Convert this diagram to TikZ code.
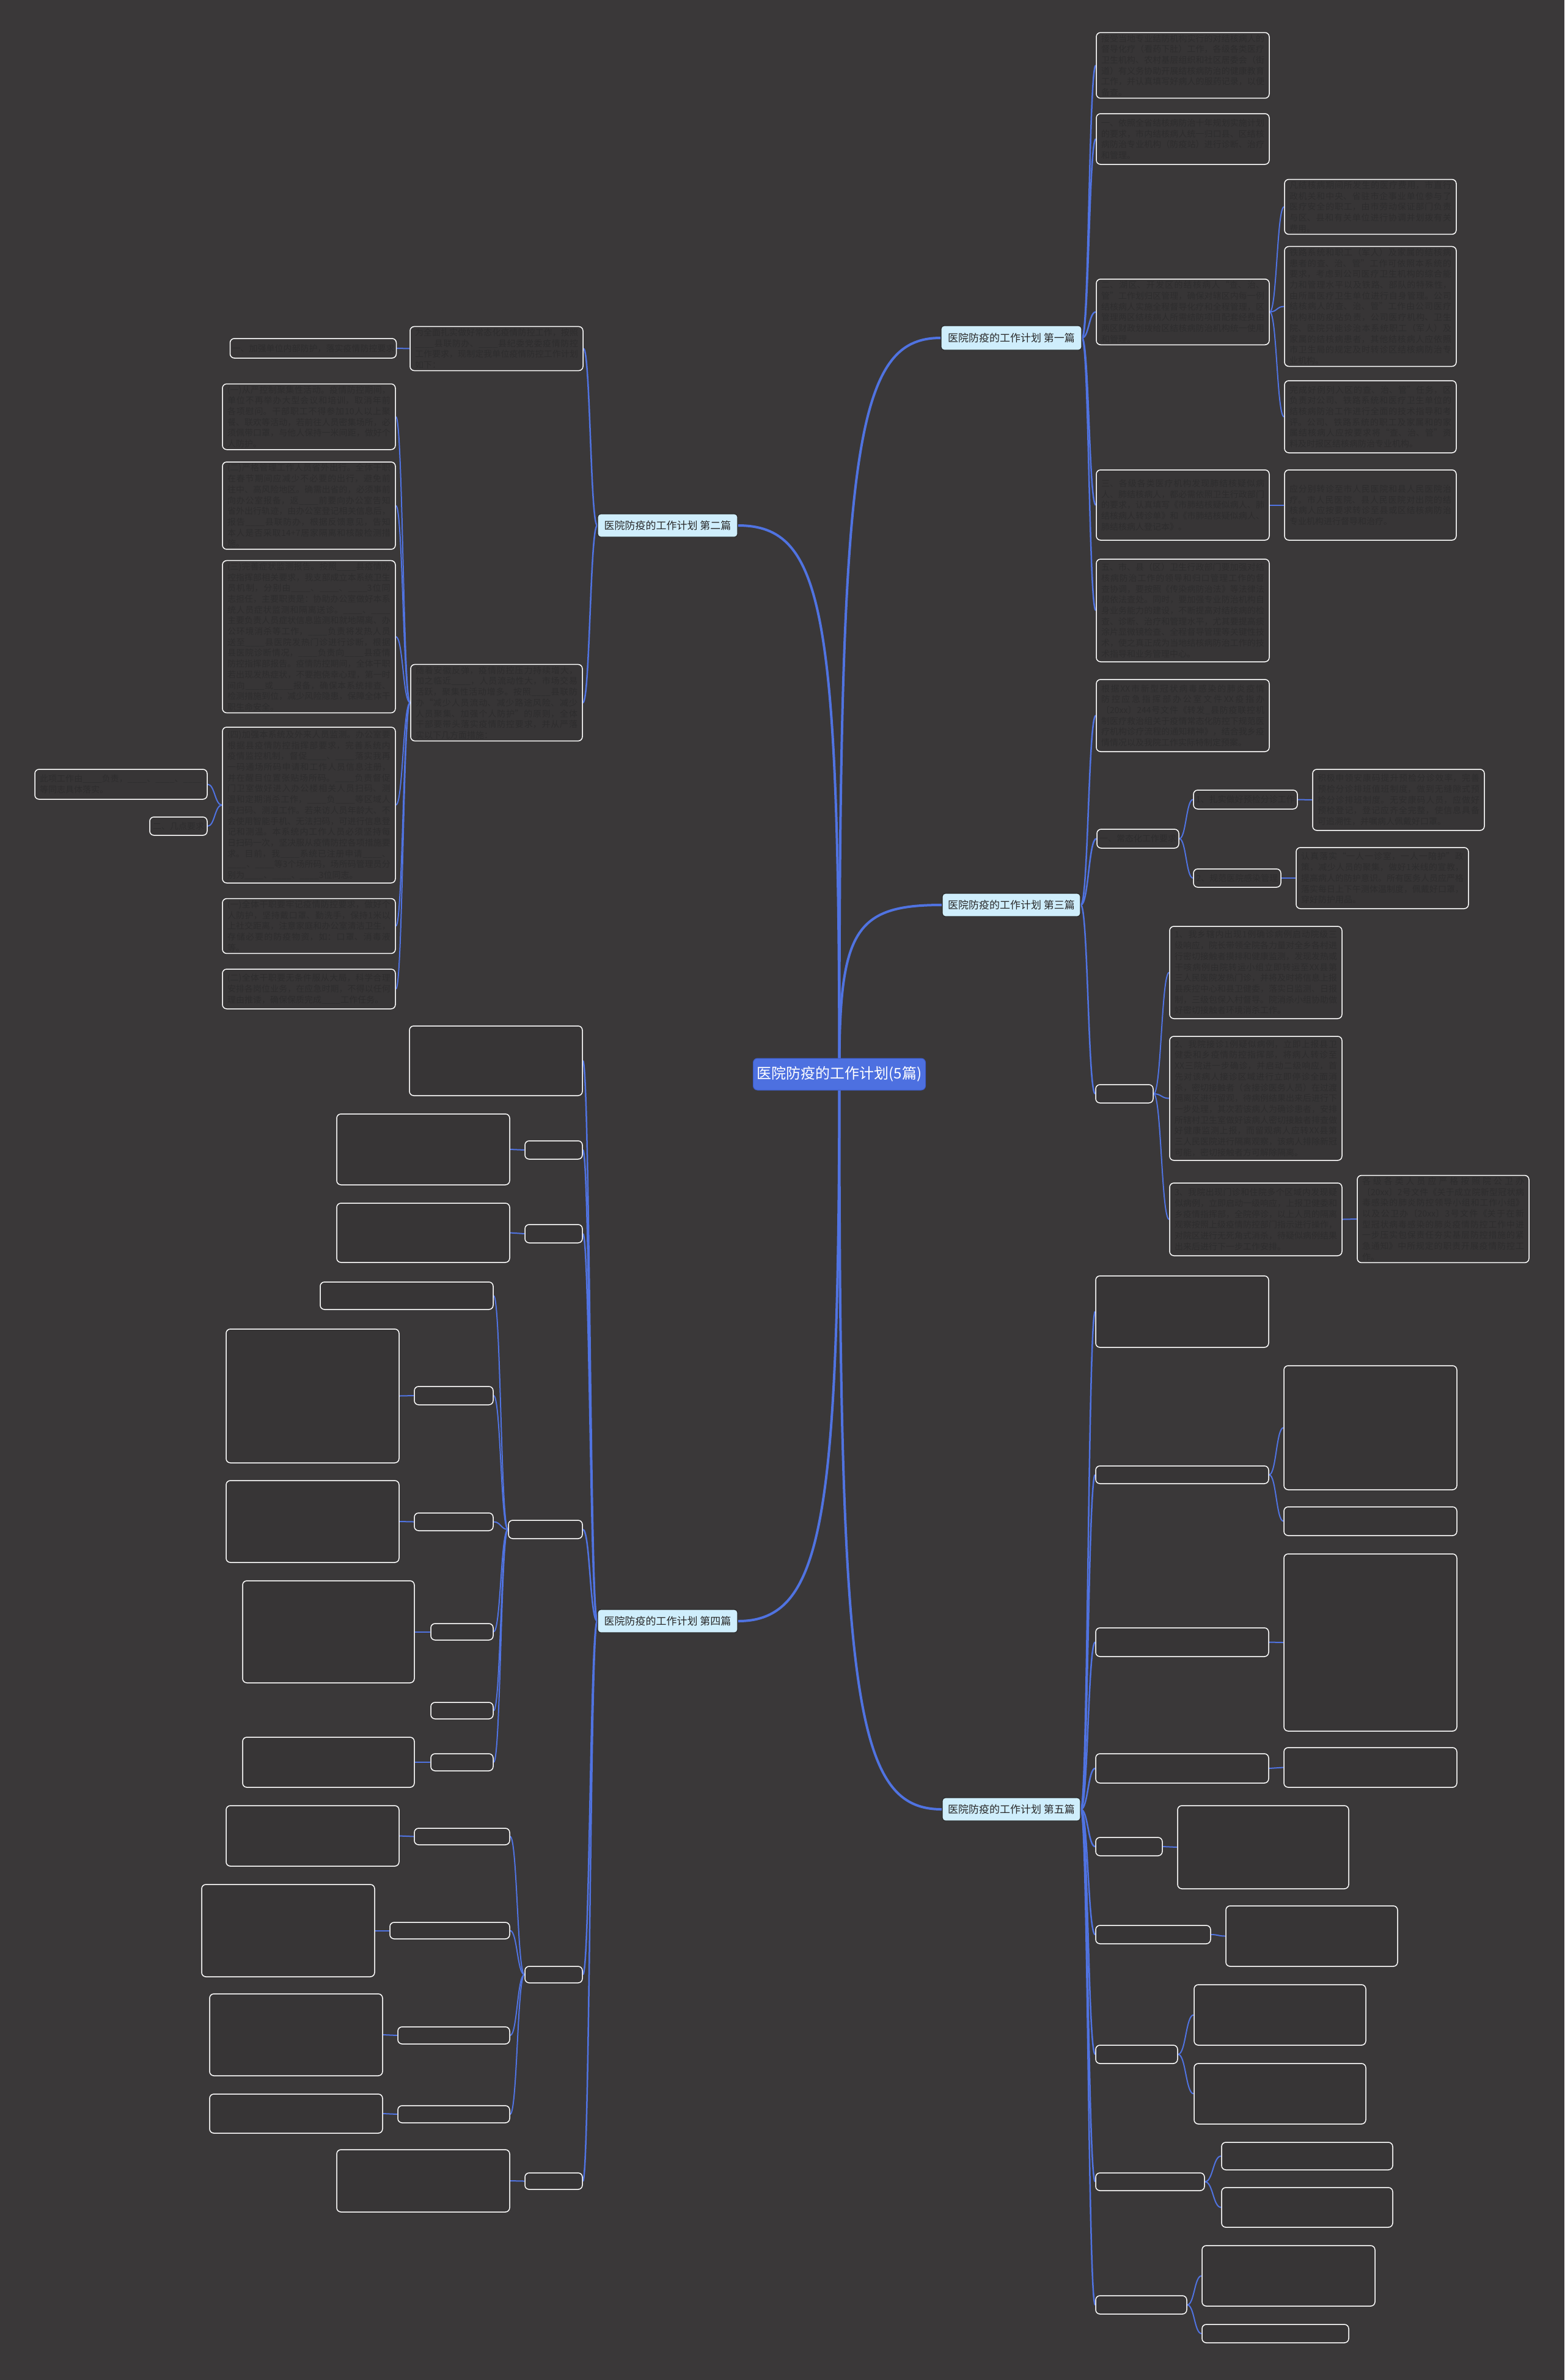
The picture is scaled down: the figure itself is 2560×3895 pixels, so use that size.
\documentclass[tikz,border=0pt]{standalone}
\usepackage{fontspec}
\setmainfont{Noto Sans CJK SC}
\XeTeXlinebreaklocale "zh"
\XeTeXlinebreakskip = 0pt plus 1pt
\usetikzlibrary{calc}
\definecolor{bgc}{RGB}{58,56,57}
\definecolor{boxc}{RGB}{55,53,54}
\definecolor{txtc}{RGB}{46,45,46}
\definecolor{lnc}{RGB}{80,115,225}
\definecolor{brc}{RGB}{207,238,252}
\definecolor{rootc}{RGB}{77,112,224}
\pgfdeclarelayer{back}\pgfdeclarelayer{lines}
\pgfsetlayers{back,lines,main}
\newcommand\bl{\_\_\_\_}
\newcommand\bx[6]{%
 \pgfmathsetmacro\bxw{#4-#2}\pgfmathsetmacro\bxh{#5-#3}\pgfmathsetmacro\bxtw{#4-#2-16}%
 \node[box,minimum width=\bxw pt,minimum height=\bxh pt,text width=\bxtw pt,align=justify] (#1) at ({(#2+#4)/2},{(#3+#5)/2}) {#6};}
\newcommand\sx[6]{%
 \pgfmathsetmacro\bxw{#4-#2}\pgfmathsetmacro\bxh{#5-#3}%
 \node[box,inner xsep=3pt,minimum width=\bxw pt,minimum height=\bxh pt] (#1) at ({(#2+#4)/2},{(#3+#5)/2}) {#6};}
\newcommand\cn[3][2]{\begin{pgfonlayer}{lines}\draw[lnc,line width=#1pt] let \p1=(#2), \p2=(#3), \n1={(\x2-\x1)/2} in (\p1) .. controls +(\n1,0) and +(-\n1,0) .. (\p2);\end{pgfonlayer}}
\tikzset{
 box/.style={draw=white,line width=1.5pt,rounded corners=7pt,fill=boxc,text=txtc,font=\fontsize{14}{17.7}\selectfont,inner xsep=8pt,inner ysep=3pt},
 branch/.style={draw={rgb,255:red,40;green,40;blue,40},line width=1.2pt,rounded corners=5pt,fill=brc,text={rgb,255:red,40;green,40;blue,40},font=\fontsize{17}{20}\selectfont,inner sep=0pt},
 rootn/.style={draw={rgb,255:red,60;green,90;blue,200},line width=1pt,rounded corners=7pt,fill=rootc,text=white,font=\fontsize{24}{28}\selectfont,inner sep=0pt}
}
\begin{document}
\begin{tikzpicture}[x=1pt,y=-1pt]
\begin{pgfonlayer}{back}\fill[bgc] (0,0) rectangle (2560,3895);\end{pgfonlayer}
\useasboundingbox (0,0) rectangle (2560,3895);
% root and branches
\node[rootn,minimum width=282pt,minimum height=52pt] (root) at (1373.5,1758) {医院防疫的工作计划(5篇)};
\node[branch,minimum width=230pt,minimum height=40pt] (b1) at (1655,553) {医院防疫的工作计划 第一篇};
\node[branch,minimum width=229pt,minimum height=38pt] (b2) at (1092.5,860) {医院防疫的工作计划 第二篇};
\node[branch,minimum width=226pt,minimum height=38pt] (b3) at (1655,1481) {医院防疫的工作计划 第三篇};
\node[branch,minimum width=229pt,minimum height=38pt] (b4) at (1092.5,2653) {医院防疫的工作计划 第四篇};
\node[branch,minimum width=226pt,minimum height=38pt] (b5) at (1655,2961) {医院防疫的工作计划 第五篇};
\begin{pgfonlayer}{lines}
\draw[lnc,line width=4pt] (root.center) .. controls (1373,733) and (1398,553) .. (b1.west);
\draw[lnc,line width=4pt] (root.center) .. controls (1373,1000) and (1348,860) .. (b2.east);
\draw[lnc,line width=4pt] (root.center) .. controls (1373,1523) and (1398,1481) .. (b3.west);
\draw[lnc,line width=4pt] (root.center) .. controls (1373,2486) and (1348,2653) .. (b4.east);
\draw[lnc,line width=4pt] (root.center) .. controls (1373,2781) and (1398,2961) .. (b5.west);
\end{pgfonlayer}
% ---------- branch 1
\bx{c11}{1794}{57}{2077}{157}{接受当地专业结防机构实行的对结核病人的督导化疗（看药下肚）工作，各级各类医疗卫生机构、农村基层组织和社区居委会（街道）有义务协助开展结核病防治的健康教育工作，并认真填写好病人的服药记录，以便备查。}
\bx{c12}{1794}{186}{2077}{269}{一、依照全省结核病防治十年规划实施计划的要求，市内结核病人统一归口县、区结核病防治专业机构（防疫站）进行诊断、治疗和管理。}
\bx{c13}{1794}{461}{2077}{560}{二、湖区、开发区的结核病人“查、治、管”工作划归区管理，确保对辖区内每一例结核病人实施全程督导化疗和全程管理，区管理两区结核病人所需结防项目配套经费由两区财政划拨给区结核病防治机构统一使用和管理。}
\bx{g131}{2102}{297}{2383}{380}{凡结核病期间所发生的医疗费用，市直行政机关和中央、省驻市企事业单位参与了医疗安全的职工，由市劳动保证部门负责与区、县和有关单位进行协调并划拨有关费用。}
\bx{g132}{2102}{408}{2383}{595}{铁路系统和职工（军人）及家属的结核病患者的查、治、管”工作可依照本系统的要求，考虑到公司医疗卫生机构的综合能力和管理水平以及铁路、部队的特殊性，由所属医疗卫生单位进行自身管理。公司结核病人的查、治、管”工作由公司医疗机构和防疫站负责，公司医疗机构、卫生院、医院只能诊治本系统职工（军人）及家属的结核病患者，其他结核病人应依照市卫生局的规定及时转诊区结核病防治专业机构。}
\bx{g133}{2102}{623}{2383}{741}{完成好例列入区的查、治、管”任务，区负责对公司、铁路系统和医疗卫生单位的结核病防治工作进行全面的技术指导和考评。公司、铁路系统的职工及家属和的家属结核病人应按要求将“查、治、管”资料及时报区结核病防治专业机构。}
\bx{c14}{1794}{769}{2077}{884}{三、各级各类医疗机构发现肺结核疑似病人、肺结核病人，都必需依照卫生行政部门的要求，认真填写《市肺结核疑似病人、肺结核病人转诊单》和《市肺结核疑似病人、肺结核病人登记本》。}
\bx{g141}{2102}{769}{2383}{884}{应分别转诊至市人民医院和县人民医院治疗。市人民医院、县人民医院对出院的结核病人应按要求转诊至县或区结核病防治专业机构进行督导和治疗。}
\bx{c15}{1794}{915}{2077}{1083}{五、市、县（区）卫生行政部门要加强对结核病防治工作的领导和归口管理工作的督查协调，要按照《传染病防治法》等法律法规依法查处。同时，要加强专业防治机构自身业务能力的建设，不断提高对结核病的检查、诊断、治疗和管理水平，尤其要提高痰涂片显微镜检查、全程督导管理等关键性技术，使之真正成为当地结核病防治工作的技术指导和业务管理中心。}
\cn[2.5]{b1.east}{c11.west}\cn[2.5]{b1.east}{c12.west}\cn[2.5]{b1.east}{c13.west}\cn[2.5]{b1.east}{c14.west}\cn[2.5]{b1.east}{c15.west}
\cn{c13.east}{g131.west}\cn{c13.east}{g132.west}\cn{c13.east}{g133.west}\cn{c14.east}{g141.west}
% ---------- branch 2
\bx{c21}{671}{538}{954}{603}{为全面扎实做好常态化疫情防控工作，按照\bl 县联防办、\bl 县纪委党委疫情防控工作要求，现制定我单位疫情防控工作计划如下：}
\sx{g211}{378}{554}{647}{586}{一、加强单位内部防护，落实疫情防控要求}
\bx{c22}{672}{1092}{953}{1208}{随着安徽反弹，疫情防控压力持续增大，加之临近\bl ，人员流动性大，市场交易活跃，聚集性活动增多。按照\bl 县联防办“减少人员流动、减少路途风险、减少人员聚集、加强个人防护”的原则，全体干部要带头落实疫情防控要求，并从严落实以下几方面措施：}
\bx{g221}{364}{632}{647}{732}{(一)从严控制聚集性活动。疫情防控期间，单位不再举办大型会议和培训，取消年前各项慰问。干部职工不得参加10人以上聚餐、联欢等活动，若前往人员密集场所，必须佩带口罩，与他人保持一米间距，做好个人防护。}
\bx{g222}{364}{760}{647}{895}{(二)严格管理工作人员省外出行。全体干职在春节期间应减少不必要的出行，避免前往中、高风险地区。确需出省的，必须事前向办公室报备，返\bl 前要向办公室告知省外出行轨迹，由办公室登记相关信息后，报告\bl 县联防办，根据反馈意见，告知本人是否采取14+7居家隔离和核酸检测措施。}
\bx{g223}{364}{923}{647}{1161}{(三)完善症状监测报告。按照\bl 县疫情防控指挥部相关要求，我支部成立本系统卫生员机制，分别由\bl 、\bl 、\bl 3位同志担任，主要职责是：协助办公室做好本系统人员症状监测和隔离送诊。\bl 、\bl 主要负责人员症状信息监测和就地隔离、办公环境消杀等工作，\bl 负责将发热人员送至\bl 县医院发热门诊进行诊断，根据县医院诊断情况，\bl 负责向\bl 县疫情防控指挥部报告。疫情防控期间，全体干职若出现发热症状，不要抱侥幸心理，第一时间向\bl 或\bl 报备，确保本系统排查、检测措施到位，减少风险隐患，保障全体干职生命安全。}
\bx{g224}{364}{1190}{647}{1445}{(四)加强本系统及外来人员监测。办公室要根据县疫情防控指挥部要求，完善系统内疫情监控机制，督促\bl 、\bl 落实我再一码通场所码申请和工作人员信息注册，并在醒目位置张贴场所码。\bl 负责督促门卫室做好进入办公楼相关人员扫码、测温和定期消杀工作，\bl 负\bl 等区域人员扫码、测温工作。若来访人员年龄大、不会使用智能手机、无法扫码，可进行信息登记和测温。本系统内工作人员必须坚持每日扫码一次，坚决服从疫情防控各项措施要求。目前，我\bl 系统已注册申请\bl 、\bl 、\bl 等3个场所码，场所码管理员分别为\bl 、\bl 、\bl 3位同志。}
\bx{h2241}{57}{1259}{339}{1308}{此项工作由\bl 负责，\bl 、\bl 、\bl 等同志具体落实。}
\sx{h2242}{245}{1337}{339}{1367}{二、几点要求}
\bx{g225}{364}{1474}{647}{1557}{(一)全体干职要牢记疫情防控要求，做好个人防护，坚持戴口罩、勤洗手，保持1米以上社交距离，注意家庭和办公室清洁卫生，存储必要的防疫物资，如：口罩、消毒液等。}
\bx{g226}{364}{1586}{647}{1651}{(二)全体干职要无条件服从大局，科学合理安排各岗位业务，在应急时期，不得以任何理由推诿，确保保质完成\bl 工作任务。}
\cn[2.5]{b2.west}{c21.east}\cn[2.5]{b2.west}{c22.east}
\cn{c21.west}{g211.east}
\cn{c22.west}{g221.east}\cn{c22.west}{g222.east}\cn{c22.west}{g223.east}\cn{c22.west}{g224.east}\cn{c22.west}{g225.east}\cn{c22.west}{g226.east}
\cn{g224.west}{h2241.east}\cn{g224.west}{h2242.east}
% ---------- branch 3
\bx{c31}{1794}{1112}{2077}{1230}{根据XX市新型冠状病毒感染的肺炎疫情防控应急指挥部办公室文件XX疫指办〔20xx〕244号文件《转发\_县防疫联控机制医疗救治组关于疫情常态化防控下规范医疗机构诊疗流程的通知精神》，结合我乡疫情情况以及我院工作实际特制定预案。}
\sx{c32}{1795}{1357}{1929}{1388}{一、常态化工作要求}
\sx{g321}{1953}{1293}{2123}{1324}{1、扎实做好预检分诊工作}
\bx{g3211}{2148}{1259}{2429}{1359}{积极申领安康码提升预检分诊效率，完善预检分诊排班值班制度，做到无缝隙式预检分诊排班制度。无安康码人员，应做好预检登记，登记应齐全完整，使信息具备可追溯性，并嘱病人佩戴好口罩。}
\sx{g322}{1953}{1422}{2096}{1452}{2、规范医院感染管理}
\bx{g3221}{2121}{1387}{2403}{1487}{认真落实“一人一诊室，一人一陪护”政策，减少人员的聚集，做好1米线的宣教，提高病人的防护意识。所有医务人员应严格落实每日上下午测体温制度，佩戴好口罩，穿好防护用品。}
\sx{c33}{1793}{1775}{1887}{1805}{}
\bx{g331}{1914}{1516}{2196}{1667}{1、我乡辖内出现1例确诊病例启动院级三级响应，院长带领全院各力量对全乡各村进行密切接触者摸排和健康监测，发现发热或干咳病例由院转运小组立即转运至XX县第三人民医院发热门诊，并将及时将信息上报县疾控中心和县卫健委，落实日监测、日报制，三级包保入村督导。院消杀小组协助做好密切接触者环境消杀工作。}
\bx{g332}{1914}{1696}{2196}{1899}{2、我院接诊1例疑似病例，立即上报县卫健委和乡疫情防控指挥部，将病人转诊至XX三院进一步确诊，并启动二级响应，首先对该病人接诊区域进行立即停诊全面消杀，密切接触者（含接诊医务人员）在过渡隔离区进行留观，待病例结果出来后进行下一步处理，其次若该病人为确诊患者，安排所辖村卫生室做好该病人密切接触者排查做好健康监测上报，而留观病人应转XX县第三人民医院进行隔离观察，该病人排除新冠可能，密切接触者方可解除隔离。}
\bx{g333}{1914}{1936}{2196}{2055}{3、我院出现门诊和住院多个区域内发现疑似病例，立即启动一级响应，上报卫健委和乡疫情指挥部，全院停诊，以上人员的隔离观察按照上级疫情防控部门指示进行操作，对院区进行无死角式消杀，待疑似病例结果出来后进行下一步工作安排。}
\bx{g3331}{2221}{1928}{2502}{2062}{各级各类人员应严格按照院公卫办〔20xx〕2号文件《关于成立院新型冠状病毒感染的肺炎防控领导小组和工作小组》以及公卫办〔20xx〕3号文件《关于在新型冠状病毒感染的肺炎疫情防控工作中进一步压实包保责任夯实基层防控措施的紧急通知》中所规定的职责开展疫情防控工作。}
\cn[2.5]{b3.east}{c31.west}\cn[2.5]{b3.east}{c32.west}\cn[2.5]{b3.east}{c33.west}
\cn{c32.east}{g321.west}\cn{c32.east}{g322.west}\cn{g321.east}{g3211.west}\cn{g322.east}{g3221.west}
\cn{c33.east}{g331.west}\cn{c33.east}{g332.west}\cn{c33.east}{g333.west}\cn{g333.east}{g3331.west}
% ---------- branch 4
\bx{c41}{670}{1679}{953}{1793}{}
\sx{c42}{859}{1867}{953}{1897}{}
\bx{g421}{551}{1823}{834}{1939}{}
\sx{c43}{859}{2004}{953}{2034}{}
\bx{g431}{551}{1969}{834}{2066}{}
\sx{c44}{832}{2488}{953}{2518}{}
\sx{g441}{524}{2098}{807}{2143}{}
\sx{g442}{678}{2269}{807}{2299}{}
\bx{g4421}{370}{2175}{653}{2394}{}
\sx{g443}{678}{2476}{807}{2505}{}
\bx{g4431}{370}{2423}{653}{2557}{}
\sx{g444}{705}{2657}{807}{2684}{}
\bx{g4441}{397}{2587}{678}{2754}{}
\sx{g445}{705}{2786}{807}{2813}{}
\sx{g446}{705}{2870}{807}{2898}{}
\bx{g4461}{397}{2843}{678}{2925}{}
\sx{c45}{859}{3218}{953}{3245}{}
\sx{g451}{678}{2992}{834}{3019}{}
\bx{g4511}{370}{2955}{653}{3054}{}
\sx{g452}{638}{3146}{834}{3173}{}
\bx{g4521}{330}{3084}{613}{3235}{}
\sx{g453}{651}{3317}{834}{3345}{}
\bx{g4531}{343}{3263}{626}{3397}{}
\sx{g454}{651}{3446}{834}{3474}{}
\bx{g4541}{343}{3427}{626}{3491}{}
\sx{c46}{859}{3556}{953}{3583}{}
\bx{g461}{551}{3518}{834}{3620}{}
\cn[2.5]{b4.west}{c41.east}\cn[2.5]{b4.west}{c42.east}\cn[2.5]{b4.west}{c43.east}\cn[2.5]{b4.west}{c44.east}\cn[2.5]{b4.west}{c45.east}\cn[2.5]{b4.west}{c46.east}
\cn{c42.west}{g421.east}\cn{c43.west}{g431.east}
\cn{c44.west}{g441.east}\cn{c44.west}{g442.east}\cn{c44.west}{g443.east}\cn{c44.west}{g444.east}\cn{c44.west}{g445.east}\cn{c44.west}{g446.east}
\cn{g442.west}{g4421.east}\cn{g443.west}{g4431.east}\cn{g444.west}{g4441.east}\cn{g446.west}{g4461.east}
\cn{c45.west}{g451.east}\cn{c45.west}{g452.east}\cn{c45.west}{g453.east}\cn{c45.west}{g454.east}
\cn{g451.west}{g4511.east}\cn{g452.west}{g4521.east}\cn{g453.west}{g4531.east}\cn{g454.west}{g4541.east}
\cn{c46.west}{g461.east}
% ---------- branch 5
\bx{c51}{1793}{2088}{2076}{2205}{}
\sx{c52}{1793}{2399}{2076}{2428}{}
\bx{g521}{2101}{2235}{2384}{2438}{}
\sx{g522}{2101}{2466}{2384}{2513}{}
\sx{c53}{1793}{2664}{2076}{2711}{}
\bx{g531}{2101}{2543}{2384}{2833}{}
\sx{c54}{1793}{2870}{2076}{2918}{}
\bx{g541}{2101}{2860}{2384}{2925}{}
\sx{c55}{1793}{3007}{1902}{3037}{}
\bx{g551}{1927}{2955}{2207}{3091}{}
\sx{c56}{1793}{3151}{1981}{3181}{}
\bx{g561}{2006}{3119}{2287}{3218}{}
\sx{c57}{1793}{3347}{1927}{3377}{}
\bx{g571}{1954}{3248}{2235}{3347}{}
\bx{g572}{1954}{3377}{2235}{3476}{}
\sx{c58}{1793}{3556}{1971}{3585}{}
\sx{g581}{1999}{3506}{2279}{3551}{}
\bx{g582}{1999}{3580}{2279}{3645}{}
\sx{c59}{1793}{3757}{1942}{3787}{}
\bx{g591}{1967}{3675}{2250}{3774}{}
\sx{g592}{1967}{3804}{2207}{3834}{}
\cn[2.5]{b5.east}{c51.west}\cn[2.5]{b5.east}{c52.west}\cn[2.5]{b5.east}{c53.west}\cn[2.5]{b5.east}{c54.west}\cn[2.5]{b5.east}{c55.west}\cn[2.5]{b5.east}{c56.west}\cn[2.5]{b5.east}{c57.west}\cn[2.5]{b5.east}{c58.west}\cn[2.5]{b5.east}{c59.west}
\cn{c52.east}{g521.west}\cn{c52.east}{g522.west}\cn{c53.east}{g531.west}\cn{c54.east}{g541.west}\cn{c55.east}{g551.west}\cn{c56.east}{g561.west}
\cn{c57.east}{g571.west}\cn{c57.east}{g572.west}\cn{c58.east}{g581.west}\cn{c58.east}{g582.west}\cn{c59.east}{g591.west}\cn{c59.east}{g592.west}
\end{tikzpicture}
\end{document}
